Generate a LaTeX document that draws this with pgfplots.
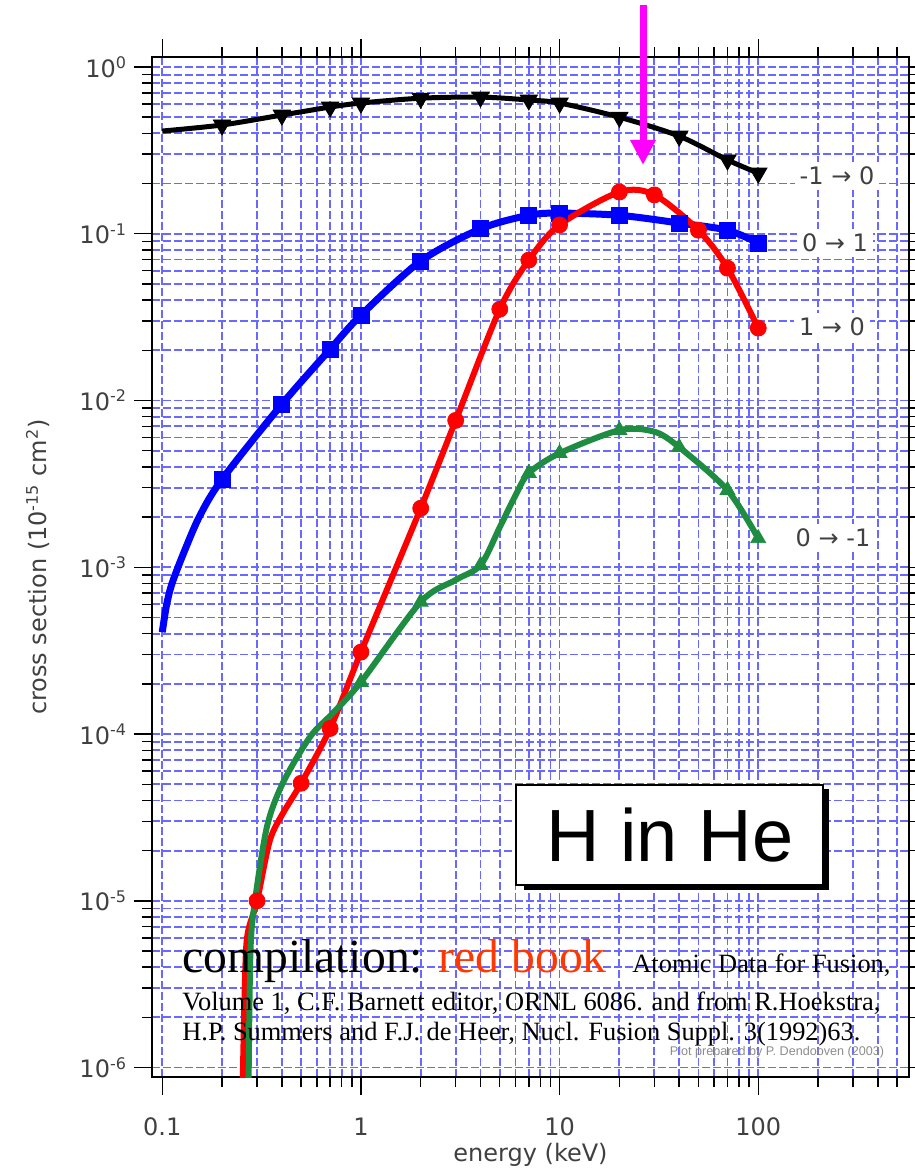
\documentclass[border=0pt]{standalone}
\usepackage{fontspec}
\setmainfont{DejaVu Sans}
\newfontfamily\helv{Liberation Sans}
\newfontfamily\timesrm{Liberation Serif}
\usepackage{pgfplots}
\pgfplotsset{compat=1.18}
\usetikzlibrary{arrows.meta}
\definecolor{gridblue}{RGB}{105,105,255}
\definecolor{cgreen}{RGB}{30,140,65}
\definecolor{redbook}{RGB}{255,55,0}
\definecolor{magentaA}{RGB}{255,0,255}

\begin{document}
\begin{tikzpicture}
\begin{axis}[
  name=ax, at={(0,0)}, anchor=south west,
  scale only axis, width=378.5pt, height=510pt,
  xmode=log, ymode=log,
  xmin=0.0888, xmax=574, ymin=0.878e-6, ymax=1.148,
  xtick={0.1,1,10,100}, xticklabels={0.1,1,10,100},
  minor xtick={0.2,0.3,0.4,0.5,0.6,0.7,0.8,0.9,2,3,4,5,6,7,8,9,20,30,40,50,60,70,80,90,200,300,400,500},
  ytick={1e-6,1e-5,1e-4,1e-3,1e-2,1e-1,1},
  yticklabels={10\textsuperscript{-6},10\textsuperscript{-5},10\textsuperscript{-4},10\textsuperscript{-3},10\textsuperscript{-2},10\textsuperscript{-1},10\textsuperscript{0}},
  minor ytick={2e-6,3e-6,4e-6,5e-6,6e-6,7e-6,8e-6,9e-6,
    2e-5,3e-5,4e-5,5e-5,6e-5,7e-5,8e-5,9e-5,
    2e-4,3e-4,4e-4,5e-4,6e-4,7e-4,8e-4,9e-4,
    2e-3,3e-3,4e-3,5e-3,6e-3,7e-3,8e-3,9e-3,
    2e-2,3e-2,4e-2,5e-2,6e-2,7e-2,8e-2,9e-2,
    2e-1,3e-1,4e-1,5e-1,6e-1,7e-1,8e-1,9e-1},
  grid=both,
  major grid style={draw=gridblue, line width=0.9pt, dash pattern=on 4pt off 1.5pt},
  minor grid style={draw=gridblue, line width=0.9pt, dash pattern=on 4pt off 1.5pt},
  tick align=outside,
  major tick length=9pt, minor tick length=5pt,
  tick style={black, line width=0.7pt, solid},
  axis line style={line width=1pt},
  tick label style={font=\fontsize{12}{14}\selectfont, text=black!75},
  xticklabel style={yshift=-8pt},
  label style={font=\fontsize{12}{14}\selectfont, text=black!75},
  xlabel={energy (keV)}, xlabel shift=-3.5pt,
  ylabel={cross section (10\textsuperscript{-15} cm\textsuperscript{2})}, ylabel shift=8pt,
]
% -1 -> 0
\addplot[black, line width=2.5pt, smooth]
  coordinates {(0.1,0.413)(0.2,0.449)(0.4,0.515)(0.7,0.575)(1,0.608)(2,0.65)(4,0.66)
  (7,0.634)(10,0.608)(20,0.50)(40,0.385)(70,0.277)(100,0.231)};
\addplot[only marks, black, mark=triangle*, mark size=5pt, mark options={rotate=180}]
  coordinates {(0.2,0.449)(0.4,0.515)(0.7,0.575)(1,0.608)(2,0.65)(4,0.66)
  (7,0.634)(10,0.608)(20,0.50)(40,0.385)(70,0.277)(100,0.231)};
% 0 -> 1
\addplot[blue, line width=3.5pt, smooth]
  coordinates {(0.1,4.08e-4)(0.105,5.9e-4)(0.112,8.0e-4)(0.13,1.27e-3)(0.155,2.05e-3)(0.2,3.37e-3)
  (0.4,9.5e-3)(0.7,0.0203)(1,0.0325)(2,0.0686)(4,0.107)(7,0.129)(10,0.133)(20,0.129)
  (40,0.116)(70,0.105)(100,0.088)};
\addplot[only marks, blue, mark=square*, mark size=4pt]
  coordinates {(0.2,3.37e-3)(0.4,9.5e-3)(0.7,0.0203)(1,0.0325)(2,0.0686)(4,0.107)(7,0.129)
  (10,0.133)(20,0.129)(40,0.116)(70,0.105)(100,0.088)};
% 1 -> 0
\addplot[red, line width=3pt, smooth]
  coordinates {(0.254,8e-7)(0.262,4e-6)(0.27,6.5e-6)(0.3,1e-5)(0.348,2.3e-5)(0.405,3.35e-5)
  (0.5,5.07e-5)(0.7,1.08e-4)(1,3.1e-4)(2,2.26e-3)(3,7.6e-3)(5,0.0353)(7,0.0695)(10,0.113)
  (20,0.178)(30,0.171)(50,0.105)(70,0.0622)(100,0.0272)};
\addplot[only marks, red, mark=*, mark size=4pt]
  coordinates {(0.3,1e-5)(0.5,5.07e-5)(0.7,1.08e-4)(1,3.1e-4)(2,2.26e-3)(3,7.6e-3)(5,0.0353)
  (7,0.0695)(10,0.113)(20,0.178)(30,0.171)(50,0.105)(70,0.0622)(100,0.0272)};
% 0 -> -1
\addplot[cgreen, line width=3pt, smooth]
  coordinates {(0.272,8e-7)(0.278,5e-6)(0.293,1e-5)(0.337,2.8e-5)(0.405,5.1e-5)(0.554,9.6e-5)
  (0.72,1.33e-4)(1,2.05e-4)(2,6.2e-4)(3,8.4e-4)(4,1.03e-3)(5,1.74e-3)(6,2.7e-3)(7,3.67e-3)
  (10,4.83e-3)(20,6.64e-3)(30,6.5e-3)(40,5.25e-3)(70,2.9e-3)(100,1.49e-3)};
\addplot[only marks, cgreen, mark=triangle*, mark size=4.3pt]
  coordinates {(1,2.05e-4)(2,6.2e-4)(4,1.03e-3)(7,3.67e-3)(10,4.83e-3)(20,6.64e-3)
  (40,5.25e-3)(70,2.9e-3)(100,1.49e-3)};
\end{axis}

\begin{scope}[shift={(ax.south west)}]
  % series labels
  \begin{scope}[every node/.style={fill=white, inner sep=2.5pt, text=black!75,
      font=\fontsize{12}{14}\selectfont}]
    \node at (342.5pt,450.5pt) {-1 → 0};
    \node at (341.5pt,417pt) {0 → 1};
    \node at (340pt,375pt) {1 → 0};
    \node at (340.5pt,269.5pt) {0 → -1};
  \end{scope}
  % H in He box
  \fill[black] (185.75pt,93.5pt) rectangle (338.5pt,144pt);
  \draw[black, fill=white, line width=0.6pt] (182pt,96pt) rectangle (335.5pt,146pt);
  \node[font=\helv\fontsize{37}{40}\selectfont] at (259pt,121pt) {H in He};
  % compilation text
  \node[anchor=base west, inner sep=0pt, font=\timesrm\fontsize{23.8}{28}\selectfont]
    at (15pt,52pt) {compilation: \textcolor{redbook}{red book}};
  \node[anchor=base west, inner sep=0pt, font=\timesrm\fontsize{13.2}{15}\selectfont]
    at (240pt,52pt) {Atomic Data for Fusion,};
  \node[anchor=base west, inner sep=0pt, font=\timesrm\fontsize{13.2}{15}\selectfont]
    at (15pt,33pt) {Volume 1, C.F. Barnett editor, ORNL 6086. and from R.Hoekstra,};
  \node[anchor=base west, inner sep=0pt, font=\timesrm\fontsize{13.2}{15}\selectfont]
    at (15pt,18pt) {H.P. Summers and F.J. de Heer, Nucl. Fusion Suppl. 3(1992)63.};
  \node[inner sep=0pt, text=black!45, font=\helv\fontsize{6.3}{7}\selectfont]
    at (312.5pt,12.5pt) {Plot prepared by P. Dendooven (2003)};
  % magenta arrow
  \draw[magentaA, line width=3.5pt, -{Triangle[length=12.5pt, width=12pt]}]
    (245.5pt,536pt) -- (245.5pt,456pt);
  \pgfresetboundingbox
  \path[use as bounding box] (-76pt,-47.5pt) rectangle (381.5pt,538.5pt);
\end{scope}
\end{tikzpicture}
\end{document}
